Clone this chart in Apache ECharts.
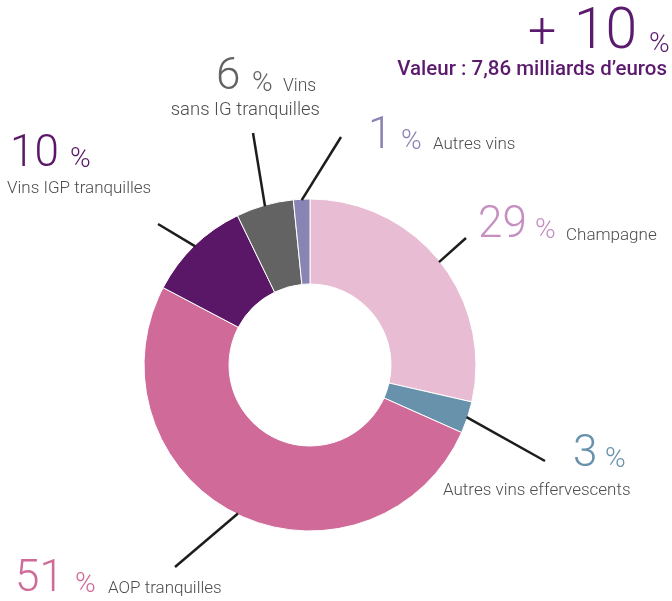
<!DOCTYPE html>
<html>
<head>
<meta charset="utf-8">
<script src="https://cdn.jsdelivr.net/npm/echarts@6/dist/echarts.min.js"></script>
<style>
html, body { margin: 0; padding: 0; background: #fff; }
#chart { width: 672px; height: 601px; }
</style>
</head>
<body>
<div id="chart"></div>
<script>
// exportations de vins : répartition en valeur
var categories = ['Champagne', 'Autres vins effervescents', 'AOP tranquilles', 'Vins IGP tranquilles', 'Vins sans IG tranquilles', 'Autres vins'];
var shares = [28.6, 3.1, 51.1, 10.1, 5.6, 1.6];   // taille des parts
var labelPct = [29, 3, 51, 10, 6, 1];             // pourcentages imprimés
var growth = '+ 10';
var subtitle = 'Valeur : 7,86 milliards d’euros';

var colors = ['#e8bcd2', '#6891ab', '#d06a98', '#5a1767', '#636363', '#8884b4'];
var pctColors = ['#c58fc0', '#6891ab', '#d06a98', '#5a1767', '#636363', '#8884b4'];
var titleColor = '#5c1a6e';

var cx = 310, cy = 365, rIn = 81, rOut = 166;

// position des étiquettes (centre des majuscules) et bout des traits
var labelPos = [
    { num: [478, 226], pct: [535, 231], name: [566, 236], end: [466, 238] },
    { num: [573, 455], pct: [605, 460], name: [443, 491], end: [545, 461] },
    { num: [15, 580], pct: [75, 585], name: [108, 589], end: [175, 567] },
    { num: [10, 155], pct: [70, 160], name: [7, 189], end: [158, 224] },
    { num: [216, 78], pct: [252, 84], name: [283, 87], name2: [320, 110], end: [253, 133] },
    { num: [368, 137], pct: [401, 142], name: [433, 145], end: [341, 137] }
];

function txt(x, y, text, font, fill, align) {
    return {
        type: 'text', x: x, y: y, z: 100, silent: true,
        style: { text: text, font: font, fill: fill, align: align || 'left', verticalAlign: 'middle' }
    };
}

var total = shares.reduce(function (a, b) { return a + b; }, 0);
var graphics = [];
var acc = 0;
shares.forEach(function (v, i) {
    var mid = (acc + v / 2) / total * 2 * Math.PI;
    acc += v;
    var p = labelPos[i];
    graphics.push({
        type: 'line', z: 100, silent: true,
        shape: { x1: cx + 165 * Math.sin(mid), y1: cy - 165 * Math.cos(mid), x2: p.end[0], y2: p.end[1] },
        style: { stroke: '#1d1d1b', lineWidth: 2.5 }
    });
    graphics.push(txt(p.num[0], p.num[1], String(labelPct[i]), '300 44px Roboto', pctColors[i]));
    graphics.push(txt(p.pct[0], p.pct[1], '%', '300 28px Roboto', pctColors[i]));
    if (p.name2) {
        var words = categories[i].split(' ');
        graphics.push(txt(p.name[0], p.name[1], words[0], '300 17.5px Roboto', '#4d4d4d'));
        graphics.push(txt(p.name2[0], p.name2[1], words.slice(1).join(' '), '300 18.5px Roboto', '#4d4d4d', 'right'));
    } else {
        graphics.push(txt(p.name[0], p.name[1], categories[i], '300 17px Roboto', '#4d4d4d'));
    }
});

graphics.push(txt(528, 34, growth.split(' ')[0], '300 50px Roboto', titleColor));
graphics.push(txt(574, 34, growth.split(' ')[1], '300 57px Roboto', titleColor));
graphics.push(txt(649, 45, '%', '300 28px Roboto', titleColor));
graphics.push(txt(667, 70, subtitle, '500 20.5px Roboto', titleColor, 'right'));

var chart = echarts.init(document.getElementById('chart'));
chart.setOption({
    animation: false,
    graphic: graphics,
    series: [{
        type: 'pie',
        center: [cx, cy],
        radius: [rIn, rOut],
        startAngle: 90,
        clockwise: true,
        silent: true,
        label: { show: false },
        labelLine: { show: false },
        itemStyle: { borderColor: '#fff', borderWidth: 1 },
        data: categories.map(function (c, i) {
            return { name: c, value: shares[i], itemStyle: { color: colors[i] } };
        })
    }]
});
</script>
</body>
</html>
